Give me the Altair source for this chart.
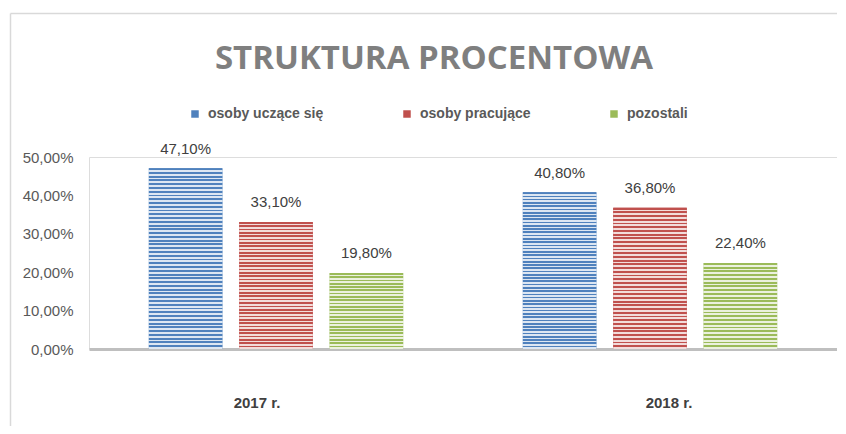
import altair as alt
import pandas as pd

years = ["2017 r.", "2018 r."]
series = ["osoby uczące się", "osoby pracujące", "pozostali"]
v_uczace = [47.1, 40.8]
v_pracujace = [33.1, 36.8]
v_pozostali = [19.8, 22.4]

dark = ["#4f81bd", "#c0504d", "#9bbb59"]
light = ["#dce6f2", "#f2dcdb", "#ebf1de"]
stripe_counts = [48, 38, 23]

rows = []
for s, vals in zip(series, [v_uczace, v_pracujace, v_pozostali]):
    for y, v in zip(years, vals):
        rows.append({"rok": y, "seria": s, "wartosc": v,
                     "etykieta": f"{v:.2f}".replace(".", ",") + "%"})
df = pd.DataFrame(rows)


def stripes(d, l, n):
    stops = []
    for i in range(n):
        a = round(i / n, 5)
        b = round((i + 0.5) / n, 5)
        c = round((i + 1) / n, 5)
        stops += [{"offset": a, "color": d}, {"offset": b, "color": d},
                  {"offset": b, "color": l}, {"offset": c, "color": l}]
    return {"gradient": "linear", "x1": 0, "y1": 0, "x2": 0, "y2": 1, "stops": stops}


X = alt.X("rok:N", sort=years,
          scale=alt.Scale(domain=years, paddingInner=0.32, paddingOuter=0.16),
          axis=alt.Axis(title=None, labelAngle=0, ticks=False, domainColor="#bfbfbf",
                        domainWidth=3, labelPadding=46, labelFont="Liberation Sans",
                        labelFontWeight="bold", labelFontSize=15, labelColor="#404040",
                        labelOffset={"condition": {"test": "datum.value == '2017 r.'", "value": -19},
                                     "value": 19}))
XO = alt.XOffset("seria:N", sort=series,
                 scale=alt.Scale(domain=series, paddingInner=0.187, paddingOuter=0))
Y = alt.Y("wartosc:Q", scale=alt.Scale(domain=[0, 50], nice=False),
          axis=alt.Axis(title=None, values=[0, 10, 20, 30, 40, 50],
                        labelExpr="replace(format(datum.value, '.2f'), '.', ',') + '%'",
                        domain=False, ticks=False, grid=False, labelPadding=16,
                        labelFont="Liberation Sans", labelFontSize=15, labelColor="#595959"))

base = alt.Chart(df)

bars = base.mark_bar().encode(
    x=X, xOffset=XO, y=Y,
    color=alt.Color("seria:N", sort=series,
                    scale=alt.Scale(domain=series, range=dark),
                    legend=alt.Legend(orient="none", legendX=99, legendY=-50,
                                      direction="horizontal", title=None,
                                      symbolType="square", symbolSize=56,
                                      labelFont="Liberation Sans", labelFontSize=14,
                                      labelFontWeight="bold", labelColor="#595959",
                                      labelOffset=6, columnPadding=76)),
)

overlays = [
    base.transform_filter(alt.datum.seria == s)
    .mark_bar(fill=stripes(d, l, n))
    .encode(x=X, xOffset=XO, y=Y)
    for s, d, l, n in zip(series, dark, light, stripe_counts)
]

labels = base.mark_text(font="Liberation Sans", fontSize=15, color="#404040",
                        baseline="alphabetic", dy=-14.5).encode(
    x=X, xOffset=XO, y=Y, text="etykieta:N")

frame_data = alt.Data(values=[{"f": 1}])
top_line = alt.Chart(frame_data).mark_rule(color="#d9d9d9", strokeWidth=1.5).encode(
    x=alt.value(-78.5), x2=alt.value(760), y=alt.value(-143.5))
left_line = alt.Chart(frame_data).mark_rule(color="#d9d9d9", strokeWidth=1.5).encode(
    x=alt.value(-78.5), y=alt.value(-143.5), y2=alt.value(269))

chart = alt.layer(top_line, left_line, bars, *overlays, labels).properties(
    width=748, height=192,
    autosize=alt.AutoSizeParams(type="none"),
    padding={"left": 81, "top": 149, "right": 0, "bottom": 77},
    title=alt.Title("STRUKTURA PROCENTOWA", font="Open Sans", fontSize=33,
                    fontWeight="bold", color="#7f7f7f", anchor="middle",
                    frame="group", dx=-29, offset=10, dy=73),
).configure_view(stroke=None).configure(background="white")

chart.save("out.html", embed_options={"renderer": "svg", "actions": False})
